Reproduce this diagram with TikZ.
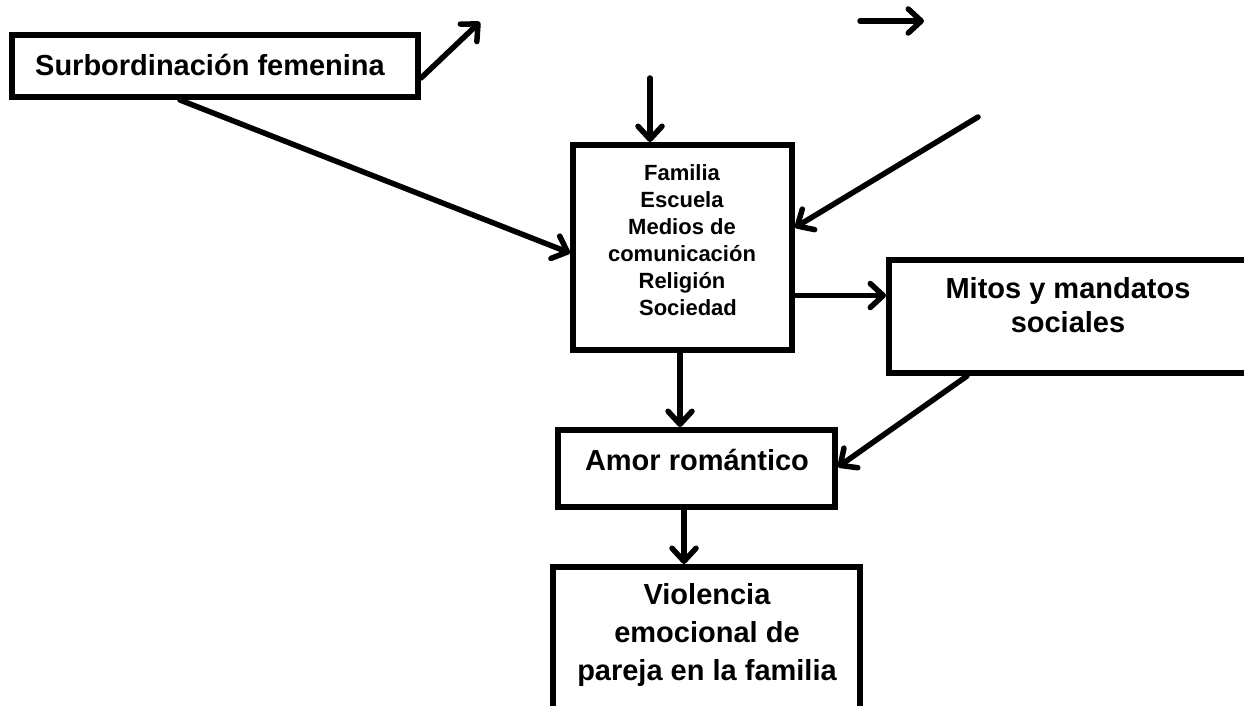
\documentclass[tikz,border=0pt]{standalone}
\usepackage{fontspec}
\setmainfont{Liberation Sans}
\usetikzlibrary{arrows.meta}
\begin{document}
\begin{tikzpicture}[x=1pt,y=-1pt,
  box/.style={draw=black, line width=6pt, rectangle, inner sep=0pt, fill=white},
  txt/.style={align=center, inner sep=0pt, font=\bfseries\fontsize{29}{34}\selectfont},
  conn/.style={line width=5.5pt, line cap=round, -{Straight Barb[length=13pt,width=24pt,line cap=round,line join=round]}}]
\useasboundingbox (0,0) rectangle (1244,706);
\clip (0,0) rectangle (1244,706);
% boxes
\node[box, minimum width=406pt, minimum height=62pt] (s) at (215,66) {};
\node[txt] (st) at (210,65) {Surbordinación femenina};
\node[box, minimum width=219pt, minimum height=205pt] (f) at (682.5,247.5) {};
\node[txt, font=\bfseries\fontsize{22}{27}\selectfont] (ft) at (682,240) {Familia\\Escuela\\Medios de\\comunicación\\Religión\\\hspace*{12pt}Sociedad};
\node[box, minimum width=361pt, minimum height=113pt] (m) at (1069.5,316.5) {};
\node[txt] (mt) at (1068,305) {Mitos y mandatos\\sociales};
\node[box, minimum width=277pt, minimum height=77pt] (a) at (696.5,468.5) {};
\node[txt] (at) at (697,460) {Amor romántico};
\node[box, minimum width=307pt, minimum height=193pt] (v) at (706.5,663.5) {};
\node[txt, font=\bfseries\fontsize{29}{38}\selectfont] (vt) at (707,635) {Violencia\\emocional de\\pareja en la familia};
% free ends
\coordinate (c1) at (480,22);
\coordinate (c2s) at (860,21);
\coordinate (c2e) at (924,21);
\coordinate (c3) at (650,78);
\coordinate (c4) at (978,117);
% connectors
\draw[conn] ([yshift=-12pt]s.east) -- (c1);
\draw[conn] (c2s) -- (c2e);
\draw[conn] (c3) -- (c3 |- f.north);
\draw[conn] (c4) -- ([yshift=20pt]f.east);
\draw[conn] ([xshift=-35pt]s.south) -- ([yshift=-5.5pt]f.west);
\draw[conn] ([yshift=-48pt]f.east) coordinate (p1) -- (p1 -| m.west);
\draw[conn] ([xshift=-2.5pt]f.south) coordinate (p2) -- (p2 |- a.north);
\draw[conn] ([xshift=-102.5pt]m.south) -- ([yshift=1.5pt]a.east);
\draw[conn] ([xshift=-12.5pt]a.south) coordinate (p3) -- (p3 |- v.north);
\end{tikzpicture}
\end{document}
